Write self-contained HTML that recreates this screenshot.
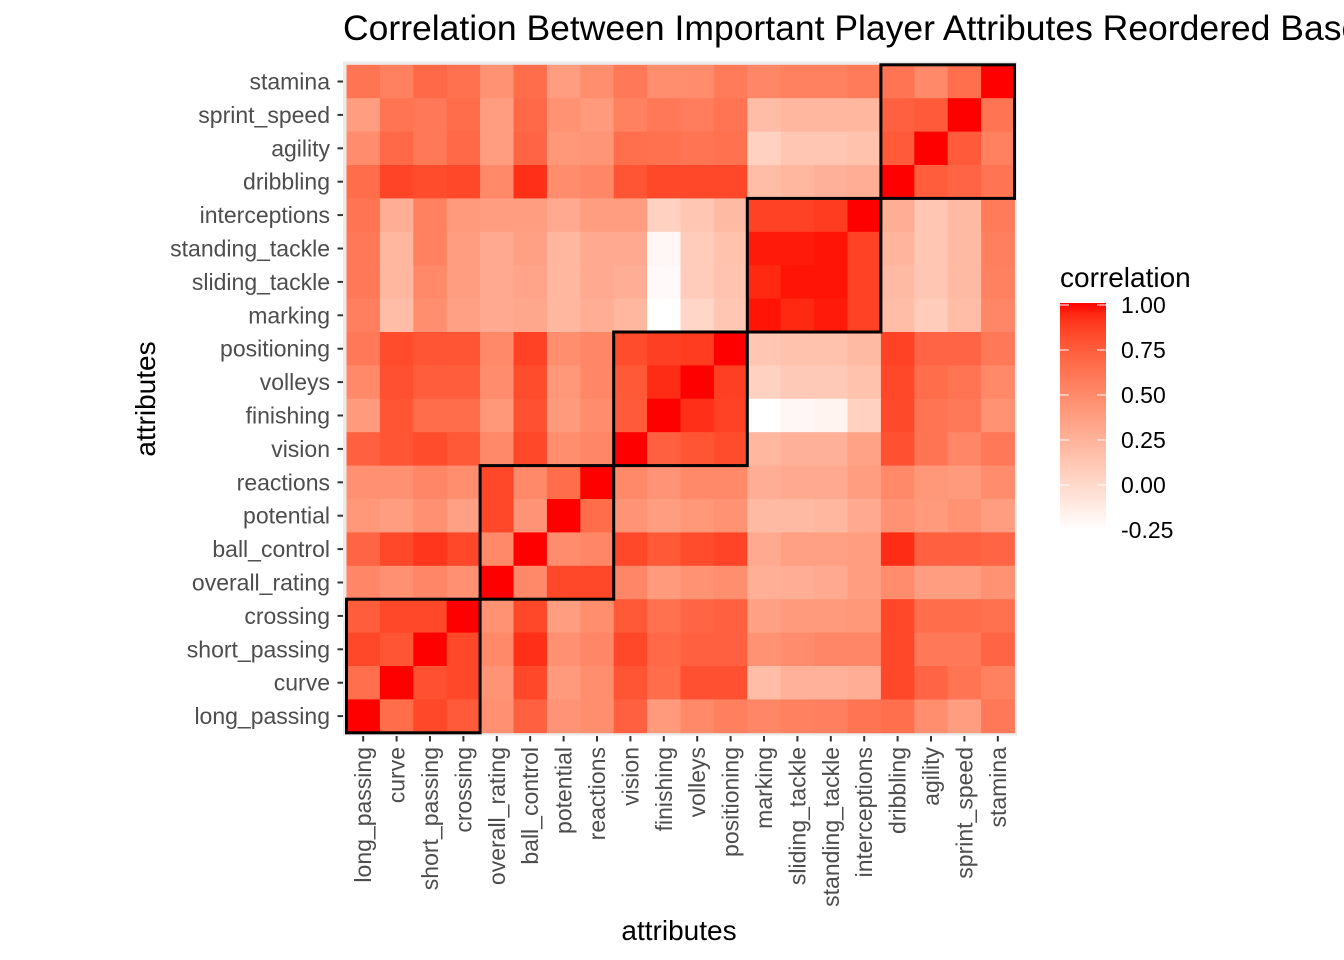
<!DOCTYPE html>
<html><head><meta charset="utf-8"><style>
html,body{margin:0;padding:0;background:#fff;width:1344px;height:960px;overflow:hidden}
svg{display:block;font-family:"Liberation Sans",Arial,sans-serif}
</style></head><body>
<svg id="chart" width="1344" height="960" viewBox="0 0 1344 960">
<text x="343" y="40" font-size="35.5" fill="#000">Correlation Between Important Player Attributes Reordered Based on Clusters</text>
<rect x="343" y="61.5" width="674" height="674" fill="#EBEBEB"/>
<g id="tiles"></g>
<g id="boxes"></g>
<g id="yaxis"></g>
<g id="xaxis"></g>
<text x="679" y="940" font-size="28" text-anchor="middle" fill="#000">attributes</text>
<text transform="translate(155,399) rotate(-90)" font-size="28" text-anchor="middle" fill="#000">attributes</text>
<g>
<text x="1060" y="287" font-size="28" fill="#000">correlation</text>
<defs><linearGradient id="lg" x1="0" y1="1" x2="0" y2="0"></linearGradient></defs>
<rect x="1060" y="303" width="46" height="227" fill="url(#lg)"/>
<g id="legticks"></g>
</g>
</svg>
<script>
const attrs = ["long_passing","curve","short_passing","crossing","overall_rating","ball_control","potential","reactions","vision","finishing","volleys","positioning","marking","sliding_tackle","standing_tackle","interceptions","dribbling","agility","sprint_speed","stamina"];
const rowNames = ["stamina","sprint_speed","agility","dribbling","interceptions","standing_tackle","sliding_tackle","marking","positioning","volleys","finishing","vision","reactions","potential","ball_control","overall_rating","crossing","short_passing","curve","long_passing"];
const r_stamina = [0.62,0.55,0.68,0.64,0.45,0.66,0.38,0.47,0.6,0.47,0.48,0.58,0.52,0.55,0.55,0.58,0.62,0.5,0.65,1.0];
const r_sprint = [0.38,0.62,0.6,0.66,0.38,0.68,0.45,0.4,0.55,0.6,0.57,0.62,0.18,0.22,0.22,0.22,0.72,0.75,1.0,0.62];
const r_agility = [0.48,0.68,0.6,0.68,0.38,0.7,0.42,0.43,0.65,0.64,0.62,0.64,0.05,0.12,0.12,0.15,0.75,1.0,0.75,0.55];
const r_dribbling = [0.66,0.85,0.82,0.84,0.5,0.92,0.48,0.52,0.78,0.84,0.84,0.84,0.18,0.22,0.26,0.28,1.0,0.74,0.7,0.62];
const r_intercept = [0.62,0.28,0.55,0.4,0.38,0.38,0.3,0.38,0.38,0.05,0.12,0.2,0.86,0.86,0.88,1.0,0.28,0.12,0.2,0.58];
const r_standing = [0.6,0.22,0.55,0.38,0.3,0.36,0.22,0.3,0.3,-0.2,0.08,0.15,0.97,0.97,0.98,0.86,0.23,0.12,0.2,0.56];
const r_sliding = [0.6,0.22,0.5,0.38,0.3,0.34,0.22,0.3,0.28,-0.22,0.08,0.14,0.94,0.98,0.98,0.86,0.2,0.12,0.2,0.55];
const r_marking = [0.56,0.18,0.47,0.36,0.3,0.32,0.22,0.28,0.22,-0.25,0.02,0.12,0.98,0.94,0.97,0.86,0.18,0.08,0.18,0.52];
const r_positioning = [0.6,0.82,0.78,0.78,0.5,0.86,0.47,0.52,0.82,0.87,0.88,1.0,0.12,0.15,0.15,0.2,0.86,0.7,0.7,0.6];
const r_volleys = [0.5,0.8,0.74,0.74,0.48,0.82,0.42,0.52,0.76,0.93,1.0,0.87,0.05,0.1,0.1,0.15,0.84,0.66,0.62,0.5];
const r_finishing = [0.4,0.78,0.66,0.66,0.42,0.8,0.4,0.48,0.75,1.0,0.92,0.86,-0.25,-0.2,-0.18,0.05,0.83,0.62,0.6,0.45];
const r_vision = [0.72,0.78,0.82,0.76,0.5,0.84,0.47,0.52,1.0,0.72,0.78,0.82,0.22,0.26,0.26,0.35,0.8,0.62,0.52,0.6];
const r_reactions = [0.46,0.46,0.52,0.47,0.84,0.5,0.66,1.0,0.5,0.44,0.5,0.5,0.28,0.3,0.3,0.38,0.5,0.42,0.4,0.48];
const r_potential = [0.42,0.38,0.46,0.36,0.84,0.44,1.0,0.66,0.44,0.38,0.42,0.45,0.2,0.2,0.22,0.3,0.45,0.4,0.45,0.38];
const r_ballcontrol = [0.7,0.84,0.9,0.84,0.5,1.0,0.48,0.52,0.84,0.76,0.82,0.85,0.3,0.36,0.36,0.38,0.93,0.72,0.72,0.7];
const r_overall = [0.52,0.46,0.52,0.46,1.0,0.5,0.84,0.84,0.52,0.4,0.45,0.47,0.27,0.28,0.3,0.38,0.48,0.38,0.38,0.45];
const r_crossing = [0.74,0.84,0.84,1.0,0.45,0.84,0.38,0.47,0.76,0.64,0.7,0.72,0.36,0.4,0.4,0.42,0.84,0.66,0.66,0.64];
const r_shortpass = [0.84,0.78,1.0,0.84,0.5,0.92,0.46,0.52,0.84,0.68,0.72,0.72,0.45,0.48,0.52,0.52,0.84,0.6,0.6,0.7];
const r_curve = [0.65,1.0,0.8,0.84,0.44,0.84,0.4,0.47,0.78,0.66,0.8,0.8,0.18,0.25,0.25,0.28,0.84,0.7,0.62,0.55];
const r_longpass = [1.0,0.66,0.84,0.75,0.46,0.72,0.44,0.47,0.72,0.4,0.5,0.56,0.52,0.55,0.56,0.62,0.65,0.47,0.38,0.6];
const values = [r_stamina,r_sprint,r_agility,r_dribbling,r_intercept,r_standing,r_sliding,r_marking,r_positioning,r_volleys,r_finishing,r_vision,r_reactions,r_potential,r_ballcontrol,r_overall,r_crossing,r_shortpass,r_curve,r_longpass];
const clusterBreaks = [0,4,8,12,16,20];
const legendTicks = [1.00,0.75,0.50,0.25,0.00,-0.25];
const legendLabels = ["1.00","0.75","0.50","0.25","0.00","-0.25"];

const NS="http://www.w3.org/2000/svg";
const X0=346.5, Y0=64.8, CELL=33.4, N=attrs.length;
const vmin=-0.25, vmax=1;
function xPos(i){return X0+i*CELL;}
function yPos(i){return Y0+i*CELL;}
function lin(c){c/=255;return c<=0.04045?c/12.92:Math.pow((c+0.055)/1.055,2.4);}
function toLab(r,g,b){r=lin(r);g=lin(g);b=lin(b);
 let x=(r*0.4124+g*0.3576+b*0.1805)/0.95047,y=(r*0.2126+g*0.7152+b*0.0722),z=(r*0.0193+g*0.1192+b*0.9505)/1.08883;
 const f=t=>t>0.008856?Math.cbrt(t):7.787*t+16/116;
 x=f(x);y=f(y);z=f(z);return [116*y-16,500*(x-y),200*(y-z)];}
function fromLab(L,a,bb){let y=(L+16)/116,x=a/500+y,z=y-bb/200;
 const fi=t=>t*t*t>0.008856?t*t*t:(t-16/116)/7.787;
 x=fi(x)*0.95047;y=fi(y);z=fi(z)*1.08883;
 let r=x*3.2406+y*-1.5372+z*-0.4986,g=x*-0.9689+y*1.8758+z*0.0415,b=x*0.0557+y*-0.2040+z*1.0570;
 const gm=c=>{c=c>0.0031308?1.055*Math.pow(c,1/2.4)-0.055:12.92*c;return Math.max(0,Math.min(255,Math.round(c*255)));};
 return `rgb(${gm(r)},${gm(g)},${gm(b)})`;}
const LW=toLab(255,255,255), LR=toLab(255,0,0);
function color(v){let t=(v-vmin)/(vmax-vmin);t=Math.max(0,Math.min(1,t));
 return fromLab(LW[0]+(LR[0]-LW[0])*t,LW[1]+(LR[1]-LW[1])*t,LW[2]+(LR[2]-LW[2])*t);}

const tiles=document.getElementById('tiles');
values.forEach((row,ri)=>{row.forEach((v,ci)=>{
 const r=document.createElementNS(NS,'rect');
 r.setAttribute('x',xPos(ci));r.setAttribute('y',yPos(ri));
 r.setAttribute('width',CELL+0.4);r.setAttribute('height',CELL+0.4);
 r.setAttribute('fill',color(v));
 
 
 tiles.appendChild(r);});});

const boxes=document.getElementById('boxes');
for(let k=0;k<clusterBreaks.length-1;k++){
 const a=clusterBreaks[k],b=clusterBreaks[k+1];
 const rect=document.createElementNS(NS,'rect');
 rect.setAttribute('x',xPos(a));rect.setAttribute('width',(b-a)*CELL);
 rect.setAttribute('y',yPos(N-b));rect.setAttribute('height',(b-a)*CELL);
 rect.setAttribute('fill','none');rect.setAttribute('stroke','#000');rect.setAttribute('stroke-width','3');
 
 
 boxes.appendChild(rect);}

const yaxis=document.getElementById('yaxis');
rowNames.forEach((nm,i)=>{const cy=yPos(i)+CELL/2;
 const t=document.createElementNS(NS,'line');
 t.setAttribute('x1',337.5);t.setAttribute('x2',343);t.setAttribute('y1',cy);t.setAttribute('y2',cy);
 t.setAttribute('stroke','#333');t.setAttribute('stroke-width','2');
 
 
 yaxis.appendChild(t);
 const tx=document.createElementNS(NS,'text');
 tx.setAttribute('x',330);tx.setAttribute('y',cy+8);tx.setAttribute('text-anchor','end');
 tx.setAttribute('font-size','23');tx.setAttribute('fill','#4D4D4D');tx.textContent=nm;
 
 
 yaxis.appendChild(tx);});

const xaxis=document.getElementById('xaxis');
attrs.forEach((nm,i)=>{const cx=xPos(i)+CELL/2;
 const t=document.createElementNS(NS,'line');
 t.setAttribute('x1',cx);t.setAttribute('x2',cx);t.setAttribute('y1',736);t.setAttribute('y2',741.5);
 t.setAttribute('stroke','#333');t.setAttribute('stroke-width','2');
 
 
 xaxis.appendChild(t);
 const tx=document.createElementNS(NS,'text');
 tx.setAttribute('transform',`translate(${cx+8},747) rotate(-90)`);tx.setAttribute('text-anchor','end');
 tx.setAttribute('font-size','23');tx.setAttribute('fill','#4D4D4D');tx.textContent=nm;
 
 
 xaxis.appendChild(tx);});

const lg=document.getElementById('lg');
for(let i=0;i<=20;i++){const v=vmin+(vmax-vmin)*i/20;
 const s=document.createElementNS(NS,'stop');s.setAttribute('offset',(i/20));s.setAttribute('stop-color',color(v));lg.appendChild(s);}
const lt=document.getElementById('legticks');
const LY0=530, LY1=305;
function ly(v){return LY0+(v-vmin)/(vmax-vmin)*(LY1-LY0);}
legendTicks.forEach((v,i)=>{const y=ly(v);
 [[1060,1069],[1097,1106]].forEach(p=>{const l=document.createElementNS(NS,'line');
  l.setAttribute('x1',p[0]);l.setAttribute('x2',p[1]);l.setAttribute('y1',y);l.setAttribute('y2',y);
  l.setAttribute('stroke','#fff');l.setAttribute('stroke-width','1');
  
  
  lt.appendChild(l);});
 const tx=document.createElementNS(NS,'text');
 tx.setAttribute('x',1121);tx.setAttribute('y',y+8);tx.setAttribute('font-size','23');tx.setAttribute('fill','#000');
 tx.textContent=legendLabels[i];
 
 
 lt.appendChild(tx);});
</script>
</body></html>
